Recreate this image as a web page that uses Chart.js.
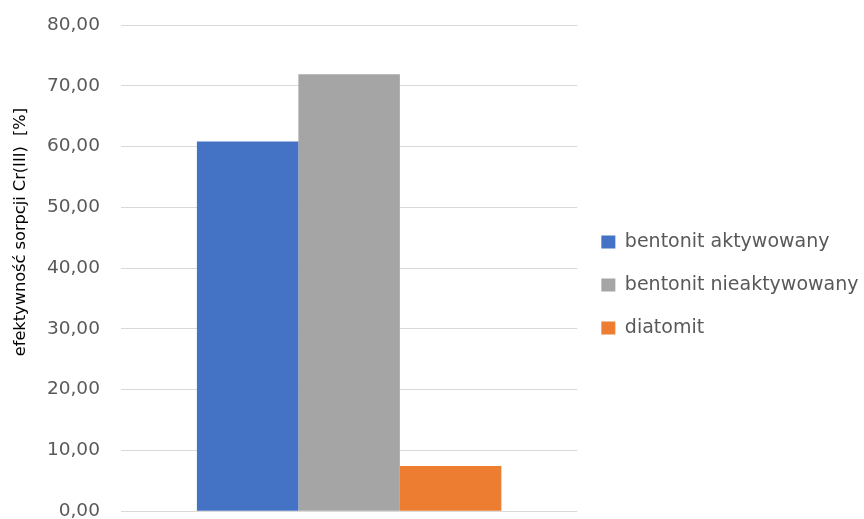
<!DOCTYPE html>
<html>
<head>
<meta charset="utf-8">
<script src="https://cdn.jsdelivr.net/npm/chart.js@4/dist/chart.umd.min.js"></script>
<style>
  html, body { margin: 0; padding: 0; background: #ffffff; }
  #wrap { width: 864px; height: 519px; }
</style>
</head>
<body>
<div id="wrap"><canvas id="chart"></canvas></div>
<script>
// Sorption efficiency of Cr(III) for three sorbents
const categories = [''];
const seriesNames = ['bentonit aktywowany', 'bentonit nieaktywowany', 'diatomit'];
const bentonitAktywowany = [60.84];
const bentonitNieaktywowany = [71.88];
const diatomit = [7.46];
const seriesColors = ['#4472C4', '#A5A5A5', '#ED7D31'];
const yTicks = { min: 0, max: 80, step: 10 };
const yTitle = 'efektywność sorpcji Cr(III)  [%]';

const textColor = '#595959';
const fontFamily = '"DejaVu Sans", sans-serif';

const seriesValues = [bentonitAktywowany, bentonitNieaktywowany, diatomit];

new Chart(document.getElementById('chart'), {
  type: 'bar',
  data: {
    labels: categories,
    datasets: seriesNames.map((name, i) => ({
      label: name,
      data: seriesValues[i],
      backgroundColor: seriesColors[i],
      borderWidth: 0,
      categoryPercentage: 0.667,
      barPercentage: 1.0
    }))
  },
  options: {
    responsive: true,
    maintainAspectRatio: false,
    animation: false,
    layout: { padding: { top: 25, bottom: 0, left: 0, right: -4.5 } },
    plugins: {
      tooltip: { enabled: false },
      legend: {
        position: 'right',
        fullSize: false,
        maxWidth: 320,
        // empty title block nudges the centred item column down a little
        title: { display: true, text: '', font: { size: 10 }, padding: { top: 22, bottom: 0 } },
        labels: {
          boxWidth: 14,
          boxHeight: 13,
          padding: 24,
          color: textColor,
          font: { family: fontFamily, size: 19 }
        }
      }
    },
    scales: {
      x: {
        display: false
      },
      y: {
        min: yTicks.min,
        max: yTicks.max,
        border: { display: false },
        grid: {
          color: '#D9D9D9',
          lineWidth: 1,
          drawTicks: true,
          tickLength: 21,
          tickColor: 'rgba(0,0,0,0)'
        },
        ticks: {
          stepSize: yTicks.step,
          padding: 0,
          color: textColor,
          font: { family: fontFamily, size: 18.5, lineHeight: 0.84 },
          callback: (v) => Number(v).toFixed(2).replace('.', ',')
        },
        title: {
          display: true,
          text: ' '.repeat(14) + yTitle,
          color: '#000000',
          font: { family: fontFamily, size: 16.2 },
          padding: { top: 11, bottom: 16.5 }
        }
      }
    }
  }
});
</script>
</body>
</html>
